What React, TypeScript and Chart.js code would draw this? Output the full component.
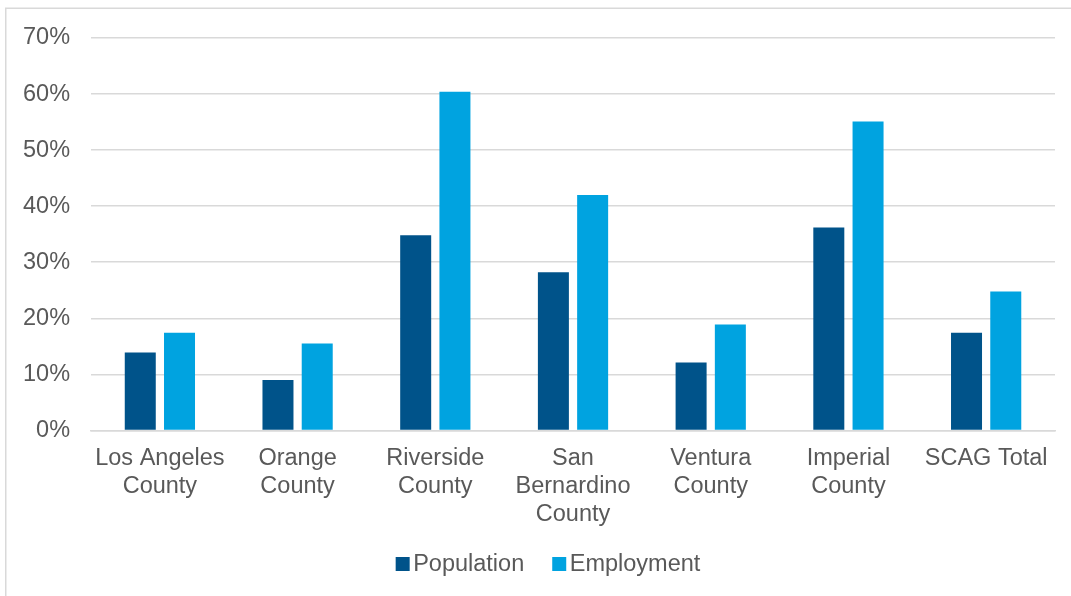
import React, { useEffect, useRef } from "react";
import { Chart, registerables } from "chart.js";

Chart.register(...registerables);

const categories: string[][] = [
  ["Los Angeles", "County"],
  ["Orange", "County"],
  ["Riverside", "County"],
  ["San", "Bernardino", "County"],
  ["Ventura", "County"],
  ["Imperial", "County"],
  ["SCAG Total"],
];
const population: number[] = [13.9, 9.0, 34.8, 28.2, 12.1, 36.2, 17.4];
const employment: number[] = [17.4, 15.5, 60.4, 42.0, 18.9, 55.1, 24.8];
const seriesNames: string[] = ["Population", "Employment"];
const seriesColors: string[] = ["#00538A", "#00A3E0"];
const yTicks: number[] = [0, 10, 20, 30, 40, 50, 60, 70];

const FONT = "'Liberation Sans', Arial, sans-serif";
const FONT_SIZE = 23.5;
const TEXT_COLOR = "#595959";

const frameAndLegend = {
  id: "frameAndLegend",
  afterDraw(chart: any) {
    const ctx = chart.ctx as CanvasRenderingContext2D;
    ctx.save();
    // outer frame (left and top visible)
    ctx.strokeStyle = "#d9d9d9";
    ctx.lineWidth = 1.5;
    ctx.beginPath();
    ctx.moveTo(5.75, chart.height + 5);
    ctx.lineTo(5.75, 8.25);
    ctx.lineTo(chart.width + 5, 8.25);
    ctx.stroke();

    // legend
    ctx.font = `${FONT_SIZE}px ${FONT}`;
    ctx.textBaseline = "middle";
    ctx.textAlign = "left";
    const box = 14;
    const gapText = 3.5;
    const gapItem = 28;
    const items = chart.data.datasets.map((ds: any) => ({
      label: ds.label as string,
      color: ds.backgroundColor as string,
      w: ctx.measureText(ds.label).width,
    }));
    let total = 0;
    items.forEach((it: any, i: number) => {
      total += box + gapText + it.w + (i < items.length - 1 ? gapItem : 0);
    });
    const cy = 564;
    let x = 548 - total / 2;
    items.forEach((it: any) => {
      ctx.fillStyle = it.color;
      ctx.fillRect(x, cy - box / 2, box, box);
      x += box + gapText;
      ctx.fillStyle = TEXT_COLOR;
      ctx.fillText(it.label, x, cy + 1);
      x += it.w + gapItem;
    });
    ctx.restore();
  },
};

export default function App() {
  const ref = useRef<HTMLCanvasElement | null>(null);
  useEffect(() => {
    if (!ref.current) return;
    const chart = new Chart(ref.current, {
      type: "bar",
      data: {
        labels: categories,
        datasets: [
          {
            label: seriesNames[0],
            data: population,
            backgroundColor: seriesColors[0],
            categoryPercentage: 0.57,
            barPercentage: 0.79,
          },
          {
            label: seriesNames[1],
            data: employment,
            backgroundColor: seriesColors[1],
            categoryPercentage: 0.57,
            barPercentage: 0.79,
          },
        ],
      },
      options: {
        animation: false,
        responsive: false,
        maintainAspectRatio: false,
        layout: { padding: { left: 2, right: 16, top: 38, bottom: 53 } },
        plugins: {
          legend: { display: false },
          tooltip: { enabled: false },
        },
        scales: {
          x: {
            grid: { display: false, drawTicks: false },
            border: { display: true, color: "#d9d9d9", width: 1.5 },
            ticks: {
              color: TEXT_COLOR,
              font: { family: FONT, size: FONT_SIZE, lineHeight: 1.2 },
              padding: 14,
              maxRotation: 0,
              autoSkip: false,
            },
          },
          y: {
            min: 0,
            max: 70,
            afterBuildTicks: (axis: any) => {
              axis.ticks = yTicks.map((v) => ({ value: v }));
            },
            grid: { color: "#d9d9d9", lineWidth: 1.5, drawTicks: false },
            border: { display: false },
            ticks: {
              color: TEXT_COLOR,
              font: { family: FONT, size: FONT_SIZE },
              padding: 21,
              callback: (v: any) => `${v}%`,
            },
          },
        },
      },
      plugins: [frameAndLegend],
    });
    return () => chart.destroy();
  }, []);
  return (
    <div style={{ position: "fixed", left: 0, top: 0, width: 1071, height: 596, background: "#fff" }}>
      <canvas ref={ref} width={1071} height={596} style={{ display: "block" }} />
    </div>
  );
}
